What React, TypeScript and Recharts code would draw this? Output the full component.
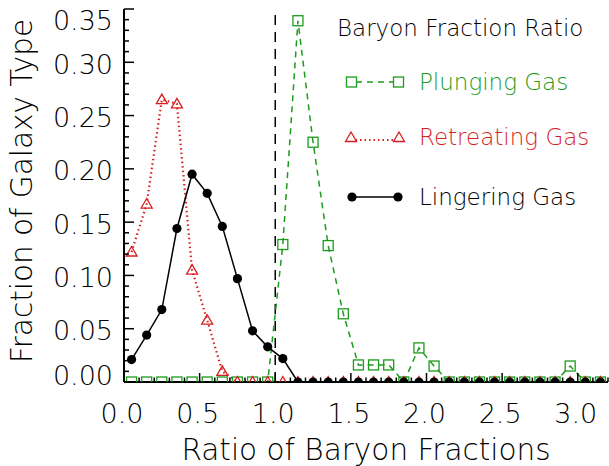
import React from "react";
import { LineChart, Line, XAxis, YAxis, ReferenceLine } from "recharts";

// bin centres of the ratio histogram
const xBins = [
  0.05, 0.15, 0.25, 0.35, 0.45, 0.55, 0.65, 0.75, 0.85, 0.95, 1.05, 1.15, 1.25, 1.35, 1.45, 1.55,
  1.65, 1.75, 1.85, 1.95, 2.05, 2.15, 2.25, 2.35, 2.45, 2.55, 2.65, 2.75, 2.85, 2.95, 3.05, 3.15,
];

const plunging = [
  0, 0, 0, 0, 0, 0, 0, 0, 0, 0, 0.129, 0.339, 0.225, 0.128, 0.064, 0.016,
  0.016, 0.016, 0, 0.032, 0.015, 0, 0, 0, 0, 0, 0, 0, 0, 0.015, 0, 0,
];

const retreating = [
  0.122, 0.167, 0.265, 0.261, 0.105, 0.058, 0.01, 0, 0, 0, 0, 0, 0, 0, 0, 0,
  0, 0, 0, 0, 0, 0, 0, 0, 0, 0, 0, 0, 0, 0, 0, 0,
];

const lingering = [
  0.021, 0.044, 0.068, 0.144, 0.195, 0.177, 0.146, 0.097, 0.048, 0.033, 0.022, 0, 0, 0, 0, 0,
  0, 0, 0, 0, 0, 0, 0, 0, 0, 0, 0, 0, 0, 0, 0, 0,
];

const xTicks = [
  0, 0.1, 0.2, 0.3, 0.4, 0.5, 0.6, 0.7, 0.8, 0.9, 1.0, 1.1, 1.2, 1.3, 1.4, 1.5, 1.6,
  1.7, 1.8, 1.9, 2.0, 2.1, 2.2, 2.3, 2.4, 2.5, 2.6, 2.7, 2.8, 2.9, 3.0, 3.1, 3.2,
];

const yTicks = [
  0, 0.01, 0.02, 0.03, 0.04, 0.05, 0.06, 0.07, 0.08, 0.09, 0.1, 0.11, 0.12, 0.13, 0.14, 0.15,
  0.16, 0.17, 0.18, 0.19, 0.2, 0.21, 0.22, 0.23, 0.24, 0.25, 0.26, 0.27, 0.28, 0.29, 0.3,
  0.31, 0.32, 0.33, 0.34, 0.35,
];

const rows = xBins.map((x, i) => ({
  x,
  plunging: plunging[i],
  retreating: retreating[i],
  lingering: lingering[i],
}));

const GREEN = "#1c9c1c";
const RED = "#d81e1e";
const FONT = "'DejaVu Sans', sans-serif";
const W = 200;

const isMult = (v: number, step: number) => Math.abs(v / step - Math.round(v / step)) < 1e-6;

const XTick = (props: any) => {
  const { x, y, payload } = props;
  const major = isMult(payload.value, 0.5);
  return (
    <g>
      <line x1={x} x2={x} y1={y} y2={y - (major ? 9 : 4.5)} stroke="#000" strokeWidth={1.5} />
      {major && payload.value < 3.15 && (
        <text x={x - 2} y={y + 41} textAnchor="middle" fontSize={27} fontFamily={FONT} fontWeight={W} fill="#000">
          {payload.value.toFixed(1)}
        </text>
      )}
    </g>
  );
};

const YTick = (props: any) => {
  const { x, y, payload } = props;
  const major = isMult(payload.value, 0.05);
  let dy = 2;
  if (payload.value > 0.345) dy = 11;
  if (payload.value < 0.001) dy = -7;
  return (
    <g>
      <line x1={x} x2={x + (major ? 10 : 5)} y1={y} y2={y} stroke="#000" strokeWidth={1.5} />
      {major && (
        <text x={x - 11} y={y + dy} textAnchor="end" dominantBaseline="central" fontSize={27} fontFamily={FONT} fontWeight={W} fill="#000">
          {payload.value.toFixed(2)}
        </text>
      )}
    </g>
  );
};

const SquareDot = (props: any) => {
  const { cx, cy, index } = props;
  return <rect key={`sq-${index}`} x={cx - 5} y={cy - 5} width={10} height={10} fill="none" stroke={GREEN} strokeWidth={1.3} />;
};

const TriDot = (props: any) => {
  const { cx, cy, index } = props;
  return (
    <polygon
      key={`tr-${index}`}
      points={`${cx},${cy - 5.5} ${cx - 5.5},${cy + 4} ${cx + 5.5},${cy + 4}`}
      fill="none"
      stroke={RED}
      strokeWidth={1.3}
    />
  );
};

const CircleDot = (props: any) => {
  const { cx, cy, index } = props;
  return <circle key={`ci-${index}`} cx={cx} cy={cy} r={4.6} fill="#000" />;
};

const LegendBox = () => (
  <svg width={280} height={210} style={{ display: "block" }}>
    <text x={7} y={34} fontSize={23} fontFamily={FONT} fontWeight={W} fill="#000">
      Baryon Fraction Ratio
    </text>
    <line x1={21} x2={69} y1={80} y2={80} stroke={GREEN} strokeWidth={1.5} strokeDasharray="6 5" strokeDashoffset={-5} />
    <rect x={16.5} y={75} width={10} height={10} fill="#fff" stroke={GREEN} strokeWidth={1.3} />
    <rect x={63.5} y={75} width={10} height={10} fill="#fff" stroke={GREEN} strokeWidth={1.3} />
    <text x={89} y={88} fontSize={23} fontFamily={FONT} fontWeight={W} fill={GREEN}>
      Plunging Gas
    </text>
    <line x1={21} x2={69} y1={138} y2={138} stroke={RED} strokeWidth={2.2} strokeDasharray="1.5 3" />
    <polygon points="21,130 15.5,139.5 26.5,139.5" fill="#fff" stroke={RED} strokeWidth={1.3} />
    <polygon points="69,130 63.5,139.5 74.5,139.5" fill="#fff" stroke={RED} strokeWidth={1.3} />
    <text x={89} y={143} fontSize={23} fontFamily={FONT} fontWeight={W} fill={RED}>
      Retreating Gas
    </text>
    <line x1={22} x2={68} y1={195} y2={195} stroke="#000" strokeWidth={1.5} />
    <circle cx={22} cy={195} r={4.6} fill="#000" />
    <circle cx={68} cy={195} r={4.6} fill="#000" />
    <text x={89} y={203} fontSize={23} fontFamily={FONT} fontWeight={W} fill="#000">
      Lingering Gas
    </text>
  </svg>
);

export default function App() {
  return (
    <div style={{ position: "absolute", left: 0, top: 0, width: 609, height: 466, background: "#fff" }}>
      <LineChart width={609} height={466} data={rows} margin={{ top: 9, right: 1, bottom: 0, left: 0 }}>
        <XAxis
          dataKey="x"
          type="number"
          domain={[0, 3.2]}
          ticks={xTicks}
          interval={0}
          allowDataOverflow
          height={84}
          tickSize={0}
          tickMargin={0}
          tickLine={false}
          tick={<XTick />}
          axisLine={{ stroke: "#000", strokeWidth: 2 }}
          label={{
            content: () => (
              <text x={366} y={460} textAnchor="middle" fontSize={29.5} fontFamily={FONT} fontWeight={W} fill="#000">
                Ratio of Baryon Fractions
              </text>
            ),
          }}
        />
        <YAxis
          type="number"
          domain={[0, 0.35]}
          ticks={yTicks}
          interval={0}
          allowDataOverflow
          width={124}
          tickSize={0}
          tickMargin={0}
          tickLine={false}
          tick={<YTick />}
          axisLine={{ stroke: "#000", strokeWidth: 2 }}
          label={{
            content: () => (
              <text x={32} y={191} transform="rotate(-90 32 191)" textAnchor="middle" fontSize={29.5} fontFamily={FONT} fontWeight={W} fill="#000">
                Fraction of Galaxy Type
              </text>
            ),
          }}
        />
        <ReferenceLine x={1} stroke="#000" strokeWidth={1.5} strokeDasharray="10 7" />
        <Line
          type="linear"
          dataKey="plunging"
          stroke={GREEN}
          strokeWidth={1.5}
          strokeDasharray="6 5"
          dot={SquareDot}
          activeDot={false}
          isAnimationActive={false}
        />
        <Line
          type="linear"
          dataKey="retreating"
          stroke={RED}
          strokeWidth={2.2}
          strokeDasharray="1.5 3"
          dot={TriDot}
          activeDot={false}
          isAnimationActive={false}
        />
        <Line
          type="linear"
          dataKey="lingering"
          stroke="#000"
          strokeWidth={1.5}
          dot={CircleDot}
          activeDot={false}
          isAnimationActive={false}
        />
      </LineChart>
      <div style={{ position: "absolute", left: 330, top: 2 }}>
        <LegendBox />
      </div>
    </div>
  );
}
